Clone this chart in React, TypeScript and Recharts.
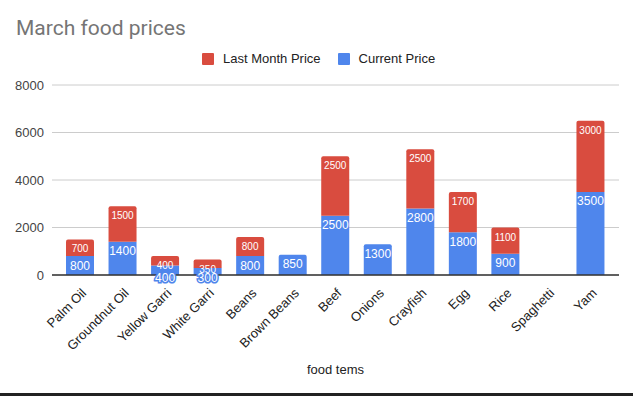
import React from 'react';
import { BarChart, Bar, XAxis, YAxis, CartesianGrid, LabelList, Label, Cell } from 'recharts';

const FOODS = ['Palm Oil', 'Groundnut Oil', 'Yellow Garri', 'White Garri', 'Beans', 'Brown Beans', 'Beef', 'Onions', 'Crayfish', 'Egg', 'Rice', 'Spaghetti', 'Yam'];
const CURRENT = [800, 1400, 400, 300, 800, 850, 2500, 1300, 2800, 1800, 900, 0, 3500];
const LAST_MONTH = [700, 1500, 400, 350, 800, 0, 2500, 0, 2500, 1700, 1100, 0, 3000];
const Y_TICKS = [0, 2000, 4000, 6000, 8000];

const BLUE = '#4f86ec';
const RED = '#d94c3f';
const FONT = 'Arial, "Liberation Sans", sans-serif';

const data = FOODS.map((name, i) => ({ name, current: CURRENT[i], last: LAST_MONTH[i] }));

// x tick rotated 45deg like sheets does
const FoodTick = (props: any) => {
  const { x, y, payload } = props;
  return (
    <g transform={`translate(${x + 4},${y + 8})`}>
      <text textAnchor="end" transform="rotate(-45)" fontSize={13} fill="#222" fontFamily={FONT} dy={4}>
        {payload.value}
      </text>
    </g>
  );
};

const makeLabel = (size: number, stroke: string) => (props: any) => {
  const { x, y, width, height, value } = props;
  if (!value) return null;
  const cx = x + width / 2;
  if (height < 14 && stroke === BLUE) {
    // too small to fit, sheets pushes it just under the bar
    return (
      <text x={cx} y={y + height + 3} textAnchor="middle" dominantBaseline="central" fontSize={size} fontFamily={FONT}
        fill="#fff" stroke={stroke} strokeWidth={3} paintOrder="stroke">
        {value}
      </text>
    );
  }
  return (
    <text x={cx} y={y + 9.5} textAnchor="middle" dominantBaseline="central" fontSize={size} fontFamily={FONT} fill="#fff">
      {value}
    </text>
  );
};

const LegendBox = () => (
  <div style={{ position: 'absolute', top: 51, left: 202, display: 'flex', alignItems: 'center', fontFamily: FONT, fontSize: 13, color: '#222' }}>
    <span style={{ width: 12, height: 12, background: RED, borderRadius: 1, display: 'inline-block' }} />
    <span style={{ marginLeft: 9 }}>Last Month Price</span>
    <span style={{ width: 12, height: 12, background: BLUE, borderRadius: 1, display: 'inline-block', marginLeft: 17 }} />
    <span style={{ marginLeft: 9 }}>Current Price</span>
  </div>
);

export default function App() {
  return (
    <div style={{ position: 'fixed', left: 0, top: 0, width: 633, height: 396, background: '#fff', overflow: 'hidden' }}>
      <div style={{ position: 'absolute', left: 16, top: 16, fontFamily: 'Roboto, sans-serif', fontSize: 21, color: '#757575', lineHeight: 'normal' }}>
        March food prices
      </div>
      <LegendBox />
      <BarChart width={633} height={396} data={data} margin={{ top: 85, right: 14, bottom: 10, left: 0 }}>
        <CartesianGrid vertical={false} stroke="#cccccc" />
        <XAxis dataKey="name" interval={0} height={111} padding={{ left: 7, right: 7 }}
          tickLine={false} axisLine={{ stroke: '#333', strokeWidth: 1.5 }} tick={<FoodTick />}>
          <Label value="food tems" position="insideBottom" offset={12} fontSize={13} fill="#222" fontFamily={FONT} />
        </XAxis>
        <YAxis width={52} domain={[0, 8000]} ticks={Y_TICKS} tickLine={false} axisLine={false} tickSize={0} tickMargin={8}
          tick={{ fontSize: 13, fill: '#444', fontFamily: FONT }} />
        <Bar dataKey="current" stackId="a" fill={BLUE} barSize={28} isAnimationActive={false}>
          {data.map((d, i) => (
            <Cell key={`c-${i}`} radius={d.last ? 0 : [2, 2, 0, 0] as any} />
          ))}
          <LabelList dataKey="current" content={makeLabel(12, BLUE)} />
        </Bar>
        <Bar dataKey="last" stackId="a" fill={RED} barSize={28} radius={[2, 2, 0, 0]} isAnimationActive={false}>
          <LabelList dataKey="last" content={makeLabel(10, RED)} />
        </Bar>
      </BarChart>
      <div style={{ position: 'absolute', left: 0, bottom: 0, width: 633, height: 3, background: '#222' }} />
    </div>
  );
}
